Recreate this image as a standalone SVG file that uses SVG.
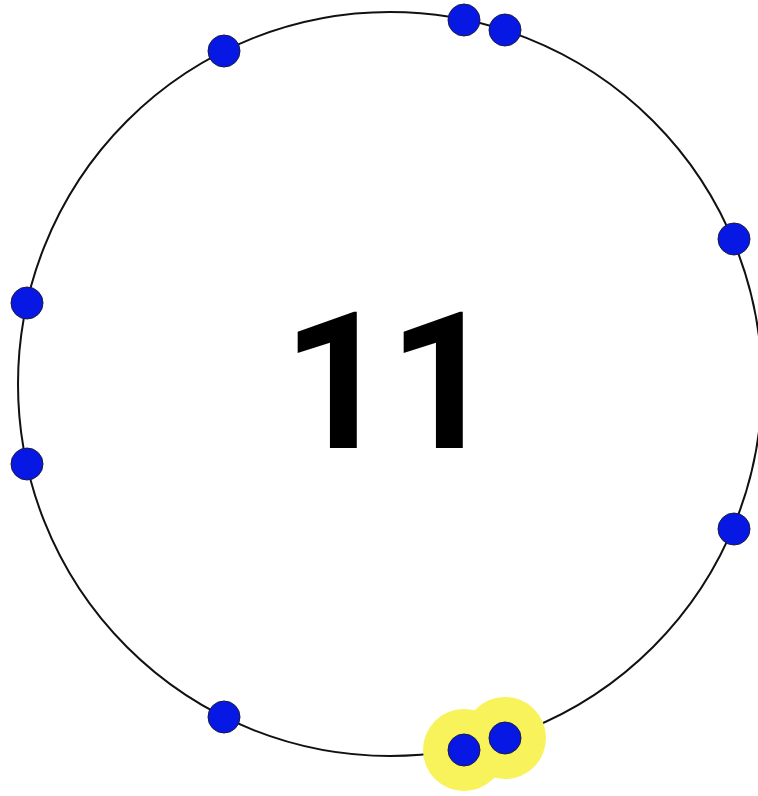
<svg xmlns="http://www.w3.org/2000/svg" width="758" height="796" viewBox="0 0 758 796">
<style>
.dot{fill:#0718e4;stroke:#1a1a40;stroke-width:1}
.halo{fill:#f8f35a}
.ring{fill:none;stroke:#111;stroke-width:2}
.lbl{font-family:Roboto,"Liberation Sans",Arial,sans-serif;font-weight:bold;font-size:191px;fill:#000;font-kerning:none}
</style>
<rect width="758" height="796" fill="#fff"/>
<g id="connectors">
<circle class="ring" cx="390" cy="384" r="372"/>
</g>
<g id="highlights">
<circle class="halo" cx="464" cy="750" r="41"/>
<circle class="halo" cx="505" cy="738" r="41"/>
</g>
<g id="n1"><circle class="dot" cx="224" cy="51" r="16"/></g>
<g id="n2"><circle class="dot" cx="464" cy="20" r="16"/></g>
<g id="n3"><circle class="dot" cx="505" cy="30" r="16"/></g>
<g id="n4"><circle class="dot" cx="734" cy="239" r="16"/></g>
<g id="n5"><circle class="dot" cx="27" cy="303" r="16"/></g>
<g id="n6"><circle class="dot" cx="27" cy="464" r="16"/></g>
<g id="n7"><circle class="dot" cx="734" cy="529" r="16"/></g>
<g id="n8"><circle class="dot" cx="224" cy="717" r="16"/></g>
<g id="n9"><circle class="dot" cx="464" cy="750" r="16"/></g>
<g id="n10"><circle class="dot" cx="505" cy="738" r="16"/></g>
<g id="label"><text class="lbl" x="282 388" y="448">11</text></g>
</svg>
